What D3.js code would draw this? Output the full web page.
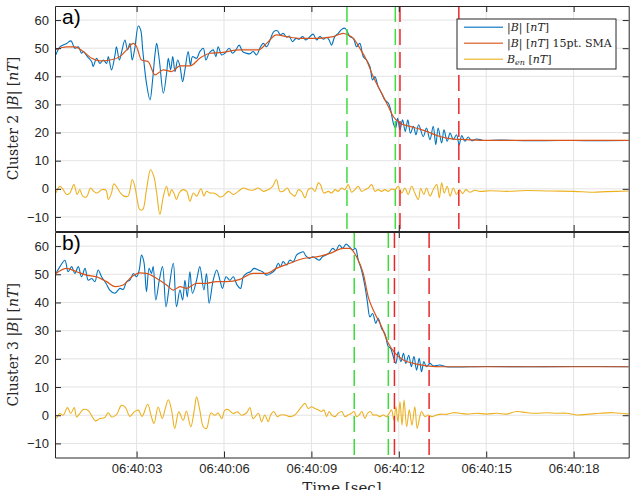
<!DOCTYPE html>
<html>
<head>
<meta charset="utf-8">
<script src="https://cdn.jsdelivr.net/npm/d3@7"></script>
<style>
    body { margin: 0; background: #fff; }
    svg { display: block; }
    .tick text { font-family: "Liberation Sans", Arial, sans-serif; font-size: 13px; fill: #262626; }
    .tex { font-family: "DejaVu Serif", "Liberation Serif", serif; fill: #262626; }
</style>
</head>
<body>
<svg id="chart" width="634" height="490"></svg>
<script>
// seconds after 06:40:00, values in nT
const c2B = [[0.23,47.6],[0.37,50.5],[0.60,51.7],[0.75,52.6],[0.88,50.0],[1.00,50.5],[1.11,48.2],[1.17,48.8],[1.31,47.0],[1.46,45.2],[1.51,43.5],[1.63,46.4],[1.74,44.6],[1.86,45.8],[1.97,44.6],[2.03,47.0],[2.14,42.3],[2.26,47.6],[2.31,50.5],[2.41,45.8],[2.49,48.8],[2.60,52.9],[2.69,49.4],[2.77,51.7],[2.85,45.8],[2.94,50.0],[3.06,57.9],[3.14,56.5],[3.21,49.4],[3.34,37.5],[3.46,31.6],[3.55,38.7],[3.63,47.6],[3.69,51.7],[3.78,45.8],[3.92,34.0],[4.03,41.1],[4.09,46.4],[4.17,42.3],[4.24,47.0],[4.32,41.7],[4.41,45.8],[4.49,43.5],[4.58,38.1],[4.66,42.3],[4.77,48.8],[4.85,44.0],[4.92,47.0],[5.06,46.4],[5.17,48.8],[5.29,50.0],[5.38,45.8],[5.49,48.2],[5.63,49.4],[5.72,47.0],[5.80,50.5],[5.92,47.6],[6.03,48.2],[6.18,50.0],[6.29,48.2],[6.41,49.4],[6.52,51.1],[6.64,48.8],[6.77,48.2],[6.89,48.0],[7.00,48.8],[7.12,47.6],[7.23,50.0],[7.35,51.7],[7.46,50.5],[7.58,52.9],[7.71,55.9],[7.83,56.2],[7.94,54.7],[8.03,55.3],[8.15,53.9],[8.24,54.3],[8.35,52.3],[8.47,53.5],[8.58,53.2],[8.70,54.1],[8.81,52.9],[8.93,53.9],[9.06,55.0],[9.18,52.9],[9.29,54.1],[9.41,53.2],[9.52,53.9],[9.61,52.9],[9.69,51.1],[9.81,54.3],[9.92,55.3],[10.04,56.7],[10.15,57.1],[10.23,55.9],[10.32,54.1],[10.44,53.5],[10.55,50.5],[10.66,51.7],[10.78,47.0],[10.89,45.8],[11.01,43.4],[11.10,38.7],[11.18,39.9],[11.29,36.4],[11.41,34.0],[11.52,31.6],[11.64,30.5],[11.72,28.1],[11.81,23.4],[11.89,21.6],[11.96,25.1],[12.04,21.0],[12.13,24.5],[12.22,20.4],[12.31,24.5],[12.40,19.8],[12.50,22.2],[12.59,19.2],[12.68,22.8],[12.84,18.6],[12.95,21.6],[13.07,17.5],[13.18,22.2],[13.27,15.7],[13.35,21.6],[13.47,16.3],[13.55,21.0],[13.66,16.9],[13.76,19.8],[13.87,17.5],[13.98,19.2],[14.07,15.7],[14.16,18.9],[14.27,16.9],[14.38,18.4],[14.50,17.1],[14.67,17.7],[14.90,17.2],[15.50,17.3],[16.50,17.1],[17.50,17.2],[18.50,17.1],[19.89,17.2]];
const c2SMA = [[0.23,49.6],[0.60,50.5],[0.88,50.5],[1.17,48.8],[1.46,46.4],[1.74,45.5],[2.09,45.8],[2.43,47.0],[2.66,49.4],[2.89,51.7],[3.00,50.5],[3.17,45.8],[3.40,45.2],[3.63,40.5],[3.92,42.3],[4.20,41.7],[4.49,43.7],[4.83,43.7],[5.17,46.4],[5.52,48.2],[5.86,48.4],[6.55,49.4],[7.18,49.4],[7.46,51.7],[7.80,54.7],[8.15,54.1],[8.61,53.5],[9.18,53.5],[9.75,54.1],[10.09,55.3],[10.26,54.7],[10.44,53.5],[10.66,50.0],[10.89,45.8],[11.12,39.9],[11.41,34.0],[11.64,29.3],[11.81,25.7],[12.04,23.4],[12.38,22.2],[12.72,21.2],[12.95,20.4],[13.41,18.6],[13.87,17.7],[14.33,17.5],[14.90,17.2],[16.00,17.2],[18.00,17.2],[19.89,17.2]];
const c2Ben = [[0.23,-1.5],[0.37,0.9],[0.48,-0.3],[0.60,-2.0],[0.71,-1.5],[0.85,1.5],[0.96,-2.0],[1.05,-0.3],[1.15,-2.6],[1.28,-2.9],[1.42,0.3],[1.53,-0.9],[1.65,-1.5],[1.80,-0.3],[1.95,-0.5],[2.03,-3.8],[2.14,-1.5],[2.22,1.8],[2.34,0.3],[2.45,-1.5],[2.57,-2.6],[2.71,-2.6],[2.85,3.3],[2.94,0.9],[3.02,-3.8],[3.11,-7.4],[3.21,-7.4],[3.34,-0.3],[3.48,6.8],[3.59,4.5],[3.69,-1.5],[3.80,-9.1],[3.92,-2.6],[4.03,0.9],[4.12,-2.6],[4.20,-0.3],[4.28,-1.5],[4.37,-3.8],[4.46,-1.5],[4.58,-0.3],[4.72,-0.9],[4.83,-4.4],[4.95,-1.5],[5.06,-2.6],[5.21,0.0],[5.31,-2.6],[5.40,-0.9],[5.52,-1.5],[5.63,-1.5],[5.75,-2.0],[5.86,-2.9],[5.97,-2.6],[6.15,-0.9],[6.32,-2.0],[6.49,-0.9],[6.66,0.3],[6.83,-0.3],[7.00,-0.5],[7.18,0.3],[7.35,-0.9],[7.52,-0.3],[7.67,0.9],[7.80,3.3],[7.92,-0.9],[8.03,-0.9],[8.17,0.3],[8.28,-1.5],[8.43,-2.6],[8.55,-0.3],[8.66,-0.9],[8.78,-3.2],[8.89,-0.3],[9.01,0.3],[9.12,-0.9],[9.24,2.1],[9.31,1.5],[9.43,-1.5],[9.58,-0.9],[9.69,-1.5],[9.81,-0.3],[9.92,-0.9],[10.04,0.3],[10.15,-0.3],[10.26,1.5],[10.38,-1.2],[10.49,-0.3],[10.61,0.9],[10.72,-0.9],[10.84,-0.3],[10.95,0.3],[11.07,1.5],[11.18,-0.9],[11.29,-0.3],[11.41,-0.9],[11.52,-0.3],[11.64,-0.9],[11.75,-0.1],[11.87,-0.3],[11.98,0.9],[12.10,-1.5],[12.21,0.3],[12.32,-2.0],[12.44,0.9],[12.55,-1.5],[12.67,-3.8],[12.75,0.1],[12.86,-2.0],[12.95,0.3],[13.07,-2.6],[13.18,-0.3],[13.30,1.5],[13.39,-3.2],[13.47,2.1],[13.56,-1.5],[13.66,0.9],[13.76,-2.6],[13.87,0.3],[13.98,-2.0],[14.08,-0.3],[14.19,-1.7],[14.30,-0.3],[14.44,-1.2],[14.61,-0.5],[14.78,-0.9],[15.13,-0.7],[15.70,-0.9],[16.39,-0.6],[17.19,-0.8],[17.99,-0.9],[18.68,-1.2],[19.13,-1.0],[19.89,-0.8]];

const c3B = [[0.23,50.3],[0.37,52.7],[0.54,55.0],[0.65,50.9],[0.77,52.7],[0.88,50.3],[1.00,52.7],[1.11,49.1],[1.23,52.1],[1.34,47.9],[1.46,48.5],[1.57,47.4],[1.68,51.5],[1.80,49.1],[1.95,46.8],[2.08,44.4],[2.26,43.3],[2.43,45.0],[2.54,44.6],[2.66,47.4],[2.77,47.9],[2.89,50.3],[3.00,49.1],[3.09,51.5],[3.17,56.8],[3.25,54.5],[3.34,43.8],[3.43,52.1],[3.51,50.3],[3.57,52.7],[3.66,40.9],[3.78,47.9],[3.89,52.7],[4.01,38.5],[4.12,45.6],[4.26,53.9],[4.37,38.5],[4.49,44.4],[4.58,40.9],[4.66,47.9],[4.74,42.0],[4.83,50.9],[4.92,43.2],[5.06,47.9],[5.17,52.7],[5.31,44.4],[5.40,50.3],[5.49,39.7],[5.63,47.9],[5.75,51.5],[5.86,47.9],[5.95,45.0],[6.07,49.1],[6.20,47.9],[6.32,49.1],[6.45,46.2],[6.57,45.0],[6.66,49.1],[6.77,50.3],[6.91,50.9],[7.03,52.1],[7.18,51.5],[7.32,50.9],[7.46,49.7],[7.60,50.3],[7.75,51.5],[7.86,53.9],[7.94,52.7],[8.03,54.5],[8.15,53.3],[8.26,55.0],[8.38,54.5],[8.49,56.8],[8.61,57.6],[8.72,58.0],[8.81,56.5],[8.93,55.6],[9.04,56.2],[9.16,55.6],[9.27,55.0],[9.38,56.2],[9.50,56.8],[9.61,57.6],[9.73,59.2],[9.84,58.4],[9.96,60.4],[10.07,59.2],[10.19,60.7],[10.30,59.8],[10.41,58.6],[10.51,59.2],[10.61,55.0],[10.72,51.5],[10.84,45.6],[10.92,40.3],[11.01,34.9],[11.10,36.1],[11.21,32.6],[11.29,34.4],[11.41,30.8],[11.52,29.0],[11.64,24.3],[11.72,23.7],[11.81,20.8],[11.90,18.4],[11.98,22.5],[12.07,19.0],[12.16,22.0],[12.24,18.4],[12.34,21.3],[12.43,17.2],[12.52,20.8],[12.61,16.0],[12.70,20.2],[12.78,15.4],[12.86,19.0],[12.95,17.2],[13.07,18.4],[13.18,17.5],[13.41,17.8],[13.64,17.2],[15.00,17.3],[16.50,17.2],[18.00,17.3],[19.89,17.2]];
const c3SMA = [[0.23,50.3],[0.60,52.1],[0.94,50.9],[1.28,49.7],[1.63,49.1],[1.97,47.4],[2.26,45.6],[2.54,46.2],[2.83,49.1],[3.11,50.5],[3.34,50.3],[3.69,48.5],[4.03,46.2],[4.26,44.4],[4.49,45.6],[4.72,45.0],[5.06,46.8],[5.40,46.8],[5.75,47.4],[6.09,47.4],[6.55,48.2],[7.00,50.3],[7.46,50.3],[7.80,52.1],[8.26,53.9],[8.72,55.6],[9.18,56.2],[9.64,57.4],[10.09,59.2],[10.32,59.2],[10.55,56.2],[10.78,50.3],[10.95,42.0],[11.18,36.1],[11.41,31.4],[11.64,25.5],[11.87,22.0],[12.15,19.6],[12.50,18.4],[12.95,17.5],[13.53,17.2],[15.00,17.2],[17.00,17.2],[19.89,17.2]];
const c3Ben = [[0.25,-1.2],[0.37,0.6],[0.48,0.0],[0.63,2.7],[0.74,0.6],[0.86,2.7],[0.94,-0.6],[1.05,0.6],[1.17,2.0],[1.34,1.7],[1.48,-0.6],[1.59,-2.0],[1.74,-1.2],[1.91,-0.8],[2.03,0.9],[2.14,-0.6],[2.31,0.2],[2.48,3.5],[2.62,2.7],[2.77,-0.4],[2.92,1.2],[3.06,1.8],[3.19,-0.4],[3.38,3.9],[3.51,-0.6],[3.60,-2.9],[3.74,2.9],[3.88,-1.2],[3.97,1.8],[4.09,5.5],[4.20,1.8],[4.31,-4.7],[4.45,1.2],[4.60,-1.8],[4.71,1.5],[4.86,-4.1],[4.98,1.8],[5.06,6.5],[5.17,1.8],[5.29,-4.1],[5.40,-4.7],[5.55,0.8],[5.69,0.0],[5.80,0.8],[5.92,-1.2],[6.03,1.8],[6.14,2.0],[6.31,0.6],[6.46,1.2],[6.60,0.0],[6.77,0.8],[6.89,2.7],[7.00,-1.2],[7.18,0.7],[7.29,-2.3],[7.40,0.1],[7.52,-2.3],[7.60,0.1],[7.71,1.3],[7.83,-0.5],[7.94,0.1],[8.09,0.1],[8.26,-0.5],[8.43,0.1],[8.58,1.9],[8.66,3.0],[8.78,4.2],[8.89,2.4],[9.01,3.0],[9.12,2.4],[9.23,1.9],[9.35,1.3],[9.43,1.9],[9.52,-0.5],[9.61,1.3],[9.69,0.1],[9.81,-0.5],[9.92,0.7],[10.04,1.3],[10.15,-0.5],[10.26,0.1],[10.38,0.7],[10.46,1.3],[10.55,-0.5],[10.64,0.1],[10.73,1.3],[10.84,-1.1],[10.93,0.7],[11.02,1.3],[11.12,0.1],[11.24,0.1],[11.35,-0.5],[11.47,0.1],[11.58,-0.5],[11.67,0.7],[11.75,1.9],[11.83,-1.7],[11.90,3.0],[11.97,-2.3],[12.04,4.8],[12.11,-3.5],[12.18,5.4],[12.27,-4.1],[12.36,1.9],[12.45,-3.5],[12.55,3.0],[12.63,-4.7],[12.72,-0.5],[12.78,1.3],[12.90,-0.5],[13.01,0.1],[13.13,-0.5],[13.30,0.1],[13.47,0.4],[13.64,0.3],[13.87,0.9],[14.10,0.7],[14.33,0.4],[14.67,0.7],[15.01,0.4],[15.36,0.7],[15.70,0.4],[16.04,1.3],[16.39,0.9],[16.73,0.7],[17.07,0.9],[17.42,0.7],[17.76,0.7],[18.10,0.1],[18.45,0.3],[18.90,0.7],[19.36,0.9],[19.89,0.4]];

// boundary times (s)
const c2Green = [10.22, 11.88];
const c2Red = [12.04, 14.06];
const c3Green = [10.47, 11.64];
const c3Red = [11.85, 13.04];

const yTicks = [-10, 0, 10, 20, 30, 40, 50, 60];
const xTickSec = [3, 6, 9, 12, 15, 18];
const timeSpan = [0.2, 19.89];
const yRange = [-15, 65];

const colors = {B: '#0072BD', sma: '#D95319', Ben: '#EDB120', green: '#3ddc3d', red: '#e8262b'};
const axisColor = '#262626';

const svg = d3.select('#chart');
const base = new Date(2000, 0, 1, 6, 40, 0);
const toDate = s => new Date(base.getTime() + s * 1000);

const x = d3.scaleTime()
    .domain(timeSpan.map(toDate))
    .range([55, 628.7]);
const xTicks = xTickSec.map(toDate);

const panels = [
    {id: 'a', label: 'a)', cluster: '2', top: 6, bottom: 231, B: c2B, sma: c2SMA, Ben: c2Ben, green: c2Green, red: c2Red, legend: true, xlabels: false},
    {id: 'b', label: 'b)', cluster: '3', top: 232, bottom: 457.5, B: c3B, sma: c3SMA, Ben: c3Ben, green: c3Green, red: c3Red, legend: false, xlabels: true}
];

panels.forEach(p => {
    const y = d3.scaleLinear().domain(yRange).range([p.bottom, p.top]);
    const g = svg.append('g');
    const [x0, x1] = x.range();

    svg.append('clipPath').attr('id', 'clip-' + p.id)
        .append('rect').attr('x', x0).attr('y', p.top).attr('width', x1 - x0).attr('height', p.bottom - p.top);

    // grid
    g.selectAll('line.gx').data(xTicks).join('line')
        .attr('x1', d => x(d)).attr('x2', d => x(d))
        .attr('y1', p.top).attr('y2', p.bottom)
        .attr('stroke', '#e3e3e3').attr('stroke-width', 1);
    g.selectAll('line.gy').data(yTicks).join('line')
        .attr('x1', x0).attr('x2', x1)
        .attr('y1', d => y(d)).attr('y2', d => y(d))
        .attr('stroke', '#e3e3e3').attr('stroke-width', 1);

    const wiggly = d3.line()
        .x(d => x(toDate(d[0])))
        .y(d => y(d[1]))
        .curve(d3.curveCatmullRom.alpha(0.5));
    const smooth = d3.line()
        .x(d => x(toDate(d[0])))
        .y(d => y(d[1]))
        .curve(d3.curveMonotoneX);

    const plot = g.append('g').attr('clip-path', `url(#clip-${p.id})`);
    plot.append('path').datum(p.B).attr('d', wiggly)
        .attr('fill', 'none').attr('stroke', colors.B).attr('stroke-width', 1.1);
    plot.append('path').datum(p.sma).attr('d', smooth)
        .attr('fill', 'none').attr('stroke', colors.sma).attr('stroke-width', 1.2);
    plot.append('path').datum(p.Ben).attr('d', wiggly)
        .attr('fill', 'none').attr('stroke', colors.Ben).attr('stroke-width', 1.1);

    // boundary markers
    const marks = p.green.map(t => ({t, c: colors.green})).concat(p.red.map(t => ({t, c: colors.red})));
    plot.selectAll('line.mark').data(marks).join('line')
        .attr('x1', d => x(toDate(d.t))).attr('x2', d => x(toDate(d.t)))
        .attr('y1', p.top).attr('y2', p.bottom)
        .attr('stroke', d => d.c).attr('stroke-width', 1.5)
        .attr('stroke-dasharray', '16,7');

    // axes, ticks inside like matlab
    const left = g.append('g').attr('transform', `translate(${x0},0)`)
        .call(d3.axisLeft(y).tickValues(yTicks).tickSizeInner(-6).tickSizeOuter(0).tickPadding(6));
    const right = g.append('g').attr('transform', `translate(${x1},0)`)
        .call(d3.axisRight(y).tickValues(yTicks).tickSizeInner(-6).tickSizeOuter(0).tickFormat(''));
    const top = g.append('g').attr('transform', `translate(0,${p.top})`)
        .call(d3.axisTop(x).tickValues(xTicks).tickSizeInner(-6).tickSizeOuter(0).tickFormat(''));
    const bottom = g.append('g').attr('transform', `translate(0,${p.bottom})`)
        .call(d3.axisBottom(x).tickValues(xTicks).tickSizeInner(-6).tickSizeOuter(0).tickPadding(6)
            .tickFormat(p.xlabels ? d3.timeFormat('%H:%M:%S') : ''));
    [left, right, top, bottom].forEach(a => {
        a.select('.domain').attr('stroke', axisColor);
        a.selectAll('.tick line').attr('stroke', axisColor);
    });

    // panel letter
    svg.append('text').attr('x', 62).attr('y', p.top + 18)
        .style('font-family', '"Liberation Sans", Arial, sans-serif')
        .style('font-size', '21px').attr('fill', '#000').text(p.label);

    // y label
    const yl = svg.append('text').attr('class', 'tex')
        .attr('transform', `translate(18,${(p.top + p.bottom) / 2}) rotate(-90)`)
        .attr('text-anchor', 'middle').style('font-size', '14px');
    yl.append('tspan').text(`Cluster ${p.cluster} |`);
    yl.append('tspan').style('font-style', 'italic').text('B');
    yl.append('tspan').text('| [');
    yl.append('tspan').style('font-style', 'italic').text('nT');
    yl.append('tspan').text(']');

    if (p.legend) {
        const lg = svg.append('g');
        lg.append('rect').attr('x', 457).attr('y', 19).attr('width', 159).attr('height', 50)
            .attr('fill', '#fff').attr('stroke', axisColor).attr('stroke-width', 1);
        const items = [
            {c: colors.B, parts: [['|', 0], ['B', 1], ['| [', 0], ['nT', 1], [']', 0]]},
            {c: colors.sma, parts: [['|', 0], ['B', 1], ['| [', 0], ['nT', 1], ['] 15pt. SMA', 0]]},
            {c: colors.Ben, parts: [['B', 1], ['en', 2], [' [', 3], ['nT', 1], [']', 0]]}
        ];
        items.forEach((it, i) => {
            const cy = 27.3 + i * 16;
            lg.append('line').attr('x1', 464).attr('x2', 503).attr('y1', cy).attr('y2', cy)
                .attr('stroke', it.c).attr('stroke-width', 1.5).attr('opacity', 0.75);
            const t = lg.append('text').attr('class', 'tex').attr('x', 507).attr('y', cy + 4)
                .style('font-size', '11px');
            it.parts.forEach(([s, k]) => {
                const ts = t.append('tspan').text(s);
                if (k === 1 || k === 2) ts.style('font-style', 'italic');
                if (k === 2) ts.style('font-size', '8px').attr('dy', 2);
                if (k === 3) ts.attr('dy', -2);
            });
        });
    }
});

// x label
svg.append('text').attr('class', 'tex')
    .attr('x', (x.range()[0] + x.range()[1]) / 2).attr('y', 493)
    .attr('text-anchor', 'middle').style('font-size', '15px')
    .text('Time [sec]');
</script>
</body>
</html>
